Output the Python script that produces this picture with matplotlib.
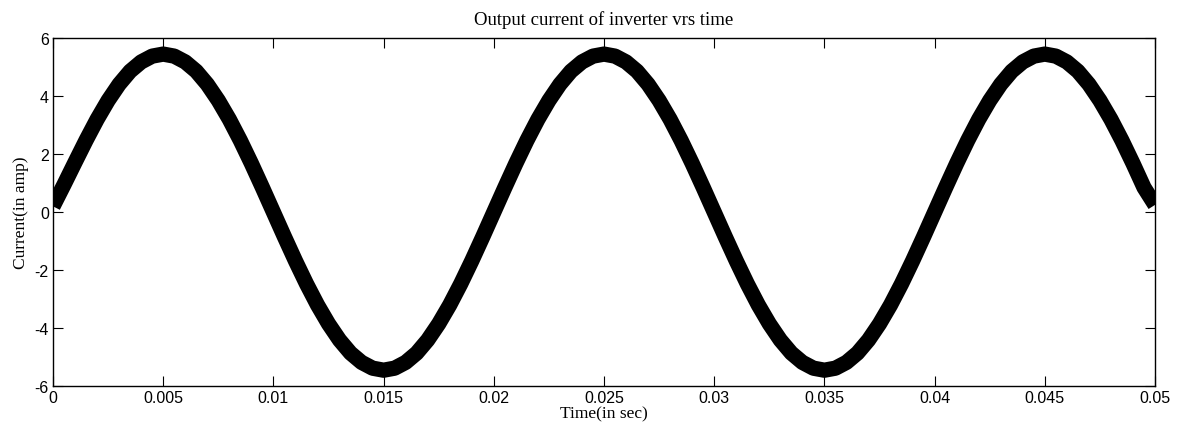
import numpy as np
import matplotlib
matplotlib.use("Agg")
import matplotlib.pyplot as plt

current = [
    0.20, 0.95, 1.72, 2.48, 3.20, 3.85, 4.41, 4.86, 5.18, 5.38, 5.45,
    5.38, 5.18, 4.86, 4.41, 3.85, 3.20, 2.47, 1.68, 0.85, 0.00,
    -0.85, -1.68, -2.47, -3.20, -3.85, -4.41, -4.86, -5.18, -5.38, -5.45,
    -5.38, -5.18, -4.86, -4.41, -3.85, -3.20, -2.47, -1.68, -0.85, 0.00,
    0.85, 1.68, 2.47, 3.20, 3.85, 4.41, 4.86, 5.18, 5.38, 5.45,
    5.38, 5.18, 4.86, 4.41, 3.85, 3.20, 2.47, 1.68, 0.85, 0.00,
    -0.85, -1.68, -2.47, -3.20, -3.85, -4.41, -4.86, -5.18, -5.38, -5.45,
    -5.38, -5.18, -4.86, -4.41, -3.85, -3.20, -2.47, -1.68, -0.85, 0.00,
    0.85, 1.68, 2.47, 3.20, 3.85, 4.41, 4.86, 5.18, 5.38, 5.45,
    5.38, 5.18, 4.86, 4.41, 3.85, 3.20, 2.47, 1.68, 0.85, 0.25,
]
t_start, t_end = 0.0, 0.05
xticks = [0, 0.005, 0.01, 0.015, 0.02, 0.025, 0.03, 0.035, 0.04, 0.045, 0.05]
xticklabels = ["0", "0.005", "0.01", "0.015", "0.02", "0.025", "0.03",
               "0.035", "0.04", "0.045", "0.05"]
yticks = [-6, -4, -2, 0, 2, 4, 6]
yticklabels = ["-6", "-4", "-2", "0", "2", "4", "6"]

time = np.linspace(t_start, t_end, len(current))

fig = plt.figure(figsize=(11.78, 4.35), dpi=100)
ax = fig.add_axes([0.045, 0.110, 0.9355, 0.800])
ax.plot(time, current, color="black", linewidth=11,
        solid_joinstyle="round", solid_capstyle="butt")
ax.set_xlim(t_start, t_end)
ax.set_ylim(-6, 6)
ax.set_xticks(xticks)
ax.set_xticklabels(xticklabels, fontfamily="Liberation Sans", fontsize=11.5)
ax.set_yticks(yticks)
ax.set_yticklabels(yticklabels, fontfamily="Liberation Sans", fontsize=11.5)
ax.tick_params(direction="in", length=7, width=0.8, top=True, right=True,
               pad=3, colors="black")
for s in ax.spines.values():
    s.set_linewidth(1.0)
    s.set_color("black")
ax.set_title("Output current of inverter vrs time", fontfamily="Liberation Serif",
             fontsize=13.5, pad=10)
ax.set_xlabel("Time(in sec)", fontfamily="Liberation Serif", fontsize=12.5, labelpad=0)
ax.set_ylabel("Current(in amp)", fontfamily="Liberation Serif", fontsize=12.5, labelpad=4)

fig.savefig("out.png", dpi=100)
